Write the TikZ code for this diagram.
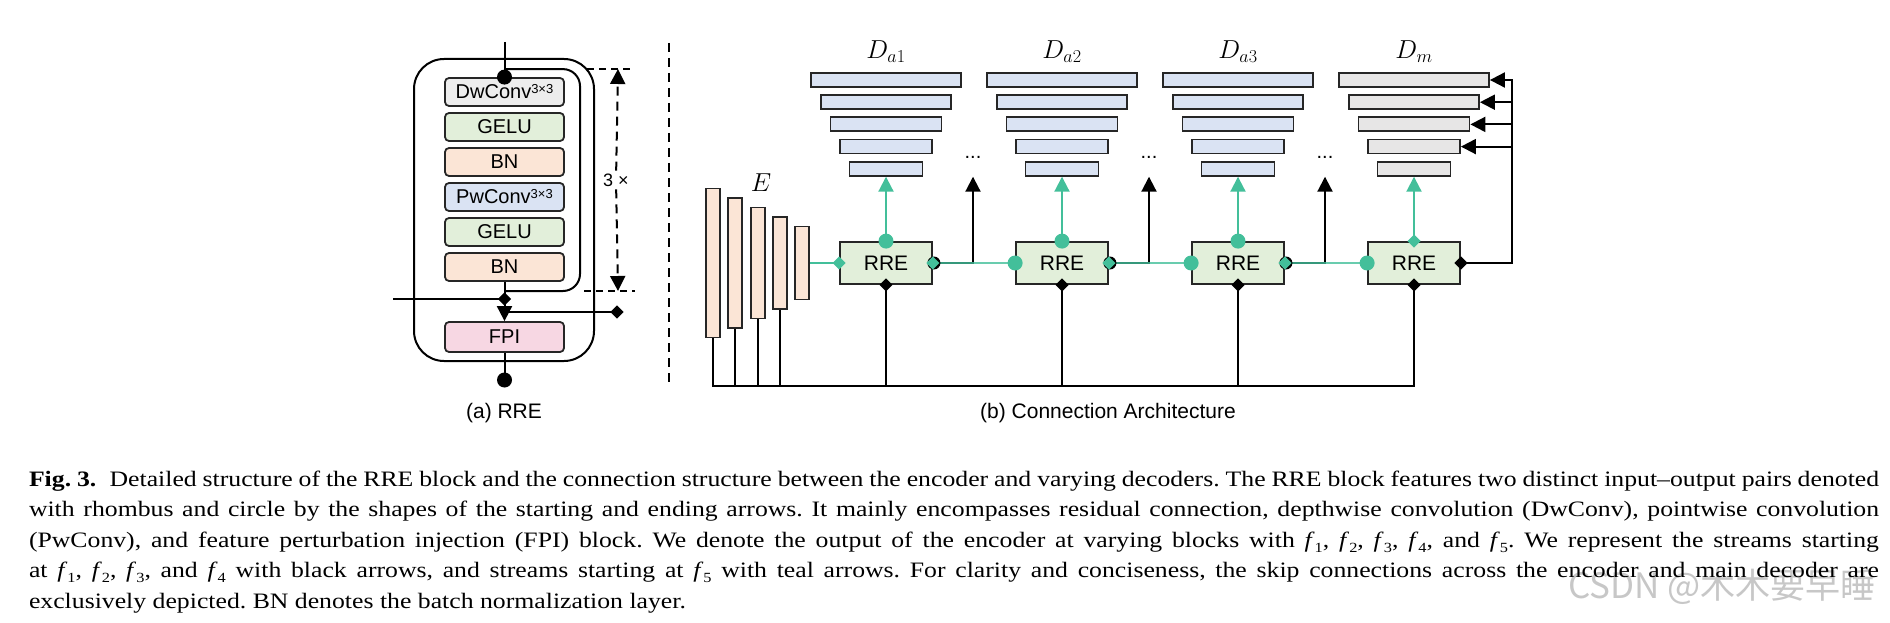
\RequirePackage{fix-cm}
\documentclass[tikz,border=0pt]{standalone}
\usepackage{fontspec}
\setmainfont{Liberation Serif}
\setsansfont{Liberation Sans}
\newfontfamily\capfont{Liberation Serif}[FakeStretch=1.17, Ligatures=TeX]
\newfontfamily\cjkfont{Noto Sans CJK SC}
\usetikzlibrary{positioning, shapes.geometric, arrows.meta}
\usepackage{xcolor}

\definecolor{strm}{HTML}{43BF9A}
\definecolor{dwgray}{HTML}{EDEDED}
\definecolor{gelugreen}{HTML}{E2EFDA}
\definecolor{bnpeach}{HTML}{FBE5D6}
\definecolor{pwblue}{HTML}{DAE3F3}
\definecolor{fpipink}{HTML}{F7D7E3}
\definecolor{rregreen}{HTML}{E2EFDA}
\definecolor{encpeach}{HTML}{FBE5D6}
\definecolor{dablue}{HTML}{DAE3F3}
\definecolor{dmgray}{HTML}{E7E6E6}

\newcommand{\ksup}{\raisebox{5pt}{\fontsize{13}{13}\selectfont 3×3}}
\newcommand{\fsub}[1]{\textit{f}\raisebox{-0.22em}{\fontsize{14}{14}\selectfont #1}}

\begin{document}
\begin{tikzpicture}[
        x=1pt, y=-1pt,
        line width=2pt,
        every node/.style={font=\sffamily\fontsize{20}{24}\selectfont},
        blk/.style={rectangle, draw=black!85, rounded corners=4pt, line width=1.8pt, minimum width=119pt, minimum height=28pt, inner sep=0pt},
        rreframe/.style={rectangle, draw, rounded corners=30pt, minimum width=180pt, minimum height=302pt},
        rre/.style={rectangle, draw=black!85, line width=1.8pt, fill=rregreen, minimum width=92pt, minimum height=42pt, font=\sffamily\fontsize{21}{24}\selectfont},
        enc/.style={rectangle, draw=black!85, line width=1.8pt, fill=encpeach, minimum width=14pt, inner sep=0pt},
        dec/.style={rectangle, draw=black!85, line width=1.8pt, minimum height=14pt, inner sep=0pt},
        tdot/.style={circle, fill=strm, minimum size=15pt, inner sep=0pt},
        tdia/.style={diamond, fill=strm, minimum size=14pt, inner sep=0pt},
        bdot/.style={circle, fill=black, minimum size=15pt, inner sep=0pt},
        bdia/.style={diamond, fill=black, minimum size=14pt, inner sep=0pt},
        tline/.style={draw=strm, line width=2pt},
        bline/.style={draw=black, line width=2pt},
        headarr/.style={-{Triangle[width=15pt, length=15pt]}},
        mathlbl/.style={font=\fontsize{26}{26}\selectfont},
        tag/.style={font=\sffamily\fontsize{21}{24}\selectfont}
    ]
    \useasboundingbox (0,0) rectangle (1890,623);

    % (a) RRE BLOCK
    \node[rreframe] (rrebox) at (504,210) {};
    \node[blk, fill=dwgray] (dw) at (504.5,92) {DwConv\ksup};
    \node[blk, fill=gelugreen, below=5.2pt of dw] (gelu1) {GELU};
    \node[blk, fill=bnpeach, below=5.2pt of gelu1] (bn1) {BN};
    \node[blk, fill=pwblue, below=5.2pt of bn1] (pw) {PwConv\ksup};
    \node[blk, fill=gelugreen, below=5.2pt of pw] (gelu2) {GELU};
    \node[blk, fill=bnpeach, below=5.2pt of gelu2] (bn2) {BN};
    \node[blk, fill=fpipink, minimum height=30pt] (fpi) at (504.5,337) {FPI};
    \coordinate (inx) at (504.5,42);
    \coordinate (rin) at (504.5,299);
    \coordinate (lin) at (393,299);
    \coordinate (rout) at (617,312);
    \coordinate (cout) at (504.5,380);
    \draw[bline] (inx) -- (dw.north);
    \draw[bline, rounded corners=17pt] ([yshift=8pt]dw.north) -| (580,291) -- (bn2.south |- 0,291);
    \draw[bline] (bn2.south) -- (rin);
    \draw[bline] (lin) -- (rin);
    \draw[bline, headarr] (rin) -- (fpi.north);
    \draw[bline] (fpi.north |- rout) -- (rout);
    \draw[bline] (fpi.south) -- (cout);
    \node[bdot] at (dw.north) {};
    \node[bdia] at (rin) {};
    \node[bdia] at (rout) {};
    \node[bdot] at (cout) {};
    % 3 x repetition
    \draw[dash pattern=on 7pt off 5pt] (587,69) -- (633,69);
    \draw[dash pattern=on 7pt off 5pt] (584,291) -- (635,291);
    \node[font=\sffamily\fontsize{18}{20}\selectfont, fill=white, inner sep=2pt] (rep) at (616,180) {3 ×};
    \draw[dash pattern=on 9pt off 6pt, headarr] (rep) -- (618,69);
    \draw[dash pattern=on 9pt off 6pt, headarr] (rep) -- (618,291);
    \node[tag] (capa) at (504,413) {(a) RRE};

    % separador
    \draw[dash pattern=on 9pt off 6pt] (669,43) -- (669,383);

    % (b) ENCODER E
    \foreach \i/\h in {1/149pt,2/130pt,3/111pt,4/92pt,5/73pt}
        \node[enc, minimum height=\h] (e\i) at ({713+22.3*(\i-1)},263) {};
    \node[mathlbl] (elbl) at (761,183) {$E$};

    % DECODERS
    \foreach \c/\fc in {1/dablue,2/dablue,3/dablue,4/dmgray}
        \foreach \i/\w in {1/150pt,2/130pt,3/111pt,4/92pt,5/73pt}
            \node[dec, fill=\fc, minimum width=\w] (dec\c-\i) at ({886+176*(\c-1)},{80+22.2*(\i-1)}) {};
    \node[mathlbl] (dl1) at (886,52) {$D_{a1}$};
    \node[mathlbl] (dl2) at (1062,52) {$D_{a2}$};
    \node[mathlbl] (dl3) at (1238,52) {$D_{a3}$};
    \node[mathlbl] (dl4) at (1414,52) {$D_{m}$};

    % RRE chain
    \node[rre] (r1) at (886,263) {RRE};
    \node[rre] (r2) at ([xshift=176pt]r1.center) {RRE};
    \node[rre] (r3) at ([xshift=176pt]r2.center) {RRE};
    \node[rre] (r4) at ([xshift=176pt]r3.center) {RRE};
    \coordinate (b1) at ([xshift=87pt]r1.center);
    \coordinate (b2) at ([xshift=87pt]r2.center);
    \coordinate (b3) at ([xshift=87pt]r3.center);
    \coordinate (bus) at (0,386);
    \coordinate (fb) at (1512,0);

    % black streams
    \draw[bline, headarr] (r1.east) -- (b1) -- (b1 |- dec1-5.south);
    \draw[bline, headarr] (r2.east) -- (b2) -- (b2 |- dec2-5.south);
    \draw[bline, headarr] (r3.east) -- (b3) -- (b3 |- dec3-5.south);
    \node[anchor=base, yshift=2pt] (dots1) at (b1 |- dec1-5.north) {...};
    \node[anchor=base, yshift=2pt] (dots2) at (b2 |- dec2-5.north) {...};
    \node[anchor=base, yshift=2pt] (dots3) at (b3 |- dec3-5.north) {...};
    \draw[bline] (e1.south) |- (r4 |- bus) -- (r4.south);
    \foreach \k in {2,3,4} \draw[bline] (e\k.south) -- (e\k |- bus);
    \foreach \k in {1,2,3} \draw[bline] (r\k.south) -- (r\k |- bus);
    \draw[bline, headarr] (r4.east) -| (fb |- dec4-1.east) -- (dec4-1.east);
    \foreach \i in {2,3,4} \draw[bline, headarr] (fb |- dec4-\i.east) -- (dec4-\i.east);

    % teal streams
    \draw[tline] (e5.east) -- (r1.west);
    \draw[tline, draw opacity=0.8] (r1.east) -- (r2.west);
    \draw[tline, draw opacity=0.8] (r2.east) -- (r3.west);
    \draw[tline, draw opacity=0.8] (r3.east) -- (r4.west);
    \draw[tline, headarr] (r1.north) -- (dec1-5.south);
    \draw[tline, headarr] (r2.north) -- (dec2-5.south);
    \draw[tline, headarr] (r3.north) -- (dec3-5.south);
    \draw[tline, headarr] (r4.north) -- (dec4-5.south);

    % markers
    \node[tdia] at (r1.west) {};
    \node[tdot] at (r2.west) {};
    \node[tdot] at (r3.west) {};
    \node[tdot] at (r4.west) {};
    \node[tdot] at (r1.north) {};
    \node[tdot] at (r2.north) {};
    \node[tdot] at (r3.north) {};
    \node[tdia] at (r4.north) {};
    \node[bdot, minimum size=13pt] at ([xshift=1pt]r1.east) {};
    \node[bdot, minimum size=13pt] at ([xshift=1pt]r2.east) {};
    \node[bdot, minimum size=13pt] at ([xshift=1pt]r3.east) {};
    \node[tdia] at (r1.east) {};
    \node[tdia] at (r2.east) {};
    \node[tdia] at (r3.east) {};
    \node[bdia] at (r4.east) {};
    \node[bdia] at (r1.south) {};
    \node[bdia] at (r2.south) {};
    \node[bdia] at (r3.south) {};
    \node[bdia] at (r4.south) {};
    \node[tag] (capb) at (1108,413) {(b) Connection Architecture};

    % caption
    \node[font=\cjkfont\fontsize{35}{35}\selectfont, text=black!22] (wm) at (1722,587) {CSDN @木木要早睡};
    \node[anchor=north west, text width=1850pt, align=justify, inner sep=0pt, font=\capfont\frenchspacing\fontsize{22}{30.5}\selectfont] (cap) at (28,470) {\textbf{Fig. 3.}\hspace{0.6em}Detailed structure of the RRE block and the connection structure between the encoder and varying decoders. The RRE block features two distinct input--output pairs denoted\linebreak
    with rhombus and circle by the shapes of the starting and ending arrows. It mainly encompasses residual connection, depthwise convolution (DwConv), pointwise convolution\linebreak
    (PwConv), and feature perturbation injection (FPI) block. We denote the output of the encoder at varying blocks with \fsub{1}, \fsub{2}, \fsub{3}, \fsub{4}, and \fsub{5}. We represent the streams starting\linebreak
    at \fsub{1}, \fsub{2}, \fsub{3}, and \fsub{4} with black arrows, and streams starting at \fsub{5} with teal arrows. For clarity and conciseness, the skip connections across the encoder and main decoder are\linebreak
    exclusively depicted. BN denotes the batch normalization layer.};
\end{tikzpicture}
\end{document}
